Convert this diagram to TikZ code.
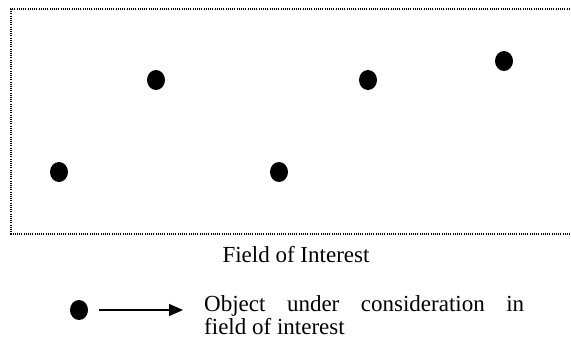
\documentclass[tikz,border=0pt]{standalone}
\usepackage{fontspec}
\setmainfont{Liberation Serif}
\usetikzlibrary{arrows.meta,shapes.geometric}
\tikzset{
  obj/.style={ellipse, fill=black, minimum width=18pt, minimum height=20pt, inner sep=0pt},
  field/.style={line width=1.1pt, dash pattern=on 1.1pt off 1.1pt},
  lbl/.style={font=\fontsize{23}{23}\selectfont, inner sep=0pt}
}
\begin{document}
\begin{tikzpicture}[x=1pt,y=-1pt]
\useasboundingbox (0,0) rectangle (571,345);
\coordinate (tr) at (572,9);
\coordinate (tl) at (11,9);
\coordinate (bl) at (11,234);
\coordinate (br) at (572,234);
\draw[field] (tr) -- (tl) -- (bl) -- (br);
\node[obj] (d1) at (59,172) {};
\node[obj] (d2) at (156,80) {};
\node[obj] (d3) at (279,172) {};
\node[obj] (d4) at (368,80) {};
\node[obj] (d5) at (504,61) {};
\node[lbl, anchor=base] (title) at (296,262) {Field of Interest};
\node[obj] (ld) at (79,310) {};
\coordinate (as) at (99,310);
\coordinate (ae) at (183,310);
\draw[line width=1.3pt, -{Triangle[length=14pt,width=12pt]}] (as) -- (ae);
\node[lbl, anchor=base west, text width=320pt, align=justify] (legend) at (204,311) {Object under consideration in\linebreak field of interest};
\end{tikzpicture}
\end{document}
